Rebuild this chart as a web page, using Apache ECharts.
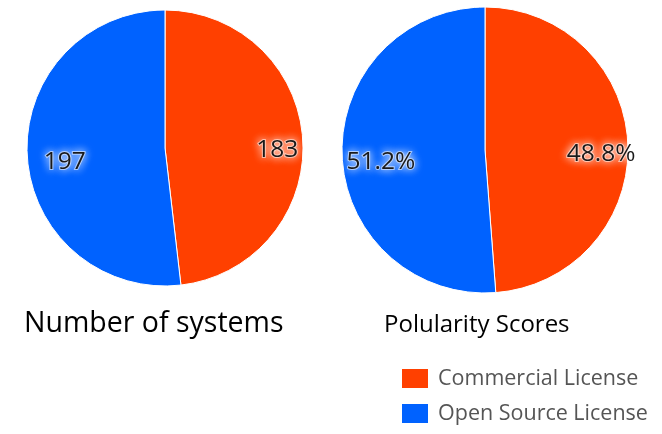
<!DOCTYPE html>
<html>
<head>
<meta charset="utf-8">
<script src="https://cdn.jsdelivr.net/npm/echarts@6/dist/echarts.min.js"></script>
<style>
  html, body { margin: 0; padding: 0; background: #fff; }
  #chart { width: 662px; height: 434px; }
</style>
</head>
<body>
<div id="chart"></div>
<script>
// data
var licenseNames = ['Commercial License', 'Open Source License'];
var licenseColors = ['#ff4000', '#0062ff'];
var systemCounts = [183, 197];
var popularityScores = [48.8, 51.2];
var chartTitles = ['Number of systems', 'Polularity Scores'];

var FONT = '"Open Sans", "Noto Sans", sans-serif';

function toData(values) {
    var out = [];
    for (var i = 0; i < values.length; i++) {
        out.push({ name: licenseNames[i], value: values[i] });
    }
    return out;
}

// the filled pie, no labels
function piePart(values, center, r) {
    return {
        type: 'pie',
        center: center,
        radius: [0, r],
        startAngle: 90,
        clockwise: true,
        percentPrecision: 1,
        label: { show: false },
        labelLine: { show: false },
        itemStyle: { borderColor: '#fff', borderWidth: 1 },
        emphasis: { disabled: true },
        data: toData(values)
    };
}

// transparent ring on top, just to put the labels at 3/4 of the radius
function labelPart(values, center, r, fmt, size) {
    return {
        type: 'pie',
        center: center,
        radius: [r / 2, r],
        startAngle: 90,
        clockwise: true,
        silent: true,
        percentPrecision: 1,
        itemStyle: { color: 'rgba(0,0,0,0)', borderWidth: 0 },
        label: {
            show: true,
            position: 'inside',
            formatter: fmt,
            offset: [6, 8],
            fontFamily: FONT,
            fontSize: size,
            color: '#1a1a1a',
            textBorderColor: 'rgba(255,255,255,0.55)',
            textBorderWidth: 2,
            textShadowColor: '#fff',
            textShadowBlur: 8
        },
        labelLine: { show: false },
        emphasis: { disabled: true },
        data: toData(values)
    };
}

var myChart = echarts.init(document.getElementById('chart'));

var option = {
    backgroundColor: '#fff',
    animation: false,
    color: licenseColors,
    title: [
        {
            text: chartTitles[0],
            left: 24,
            top: 309,
            padding: 0,
            textStyle: { fontFamily: FONT, fontSize: 28.5, fontWeight: 'normal', color: '#000' }
        },
        {
            text: chartTitles[1],
            left: 384,
            top: 313,
            padding: 0,
            textStyle: { fontFamily: FONT, fontSize: 24, fontWeight: 'normal', color: '#000' }
        }
    ],
    legend: {
        orient: 'vertical',
        left: 400,
        top: 367,
        padding: 0,
        icon: 'rect',
        itemWidth: 28,
        itemHeight: 21,
        itemGap: 12,
        selectedMode: false,
        data: licenseNames,
        textStyle: { fontFamily: FONT, fontSize: 21.5, color: '#555', padding: [0, 0, 0, 4] }
    },
    series: [
        piePart(systemCounts, [165, 148], 138),
        piePart(popularityScores, [485, 150], 143),
        labelPart(systemCounts, [165, 148], 138, '{c}', 24.5),
        labelPart(popularityScores, [485, 150], 143, '{d}%', 24.5)
    ]
};

myChart.setOption(option);
</script>
</body>
</html>
